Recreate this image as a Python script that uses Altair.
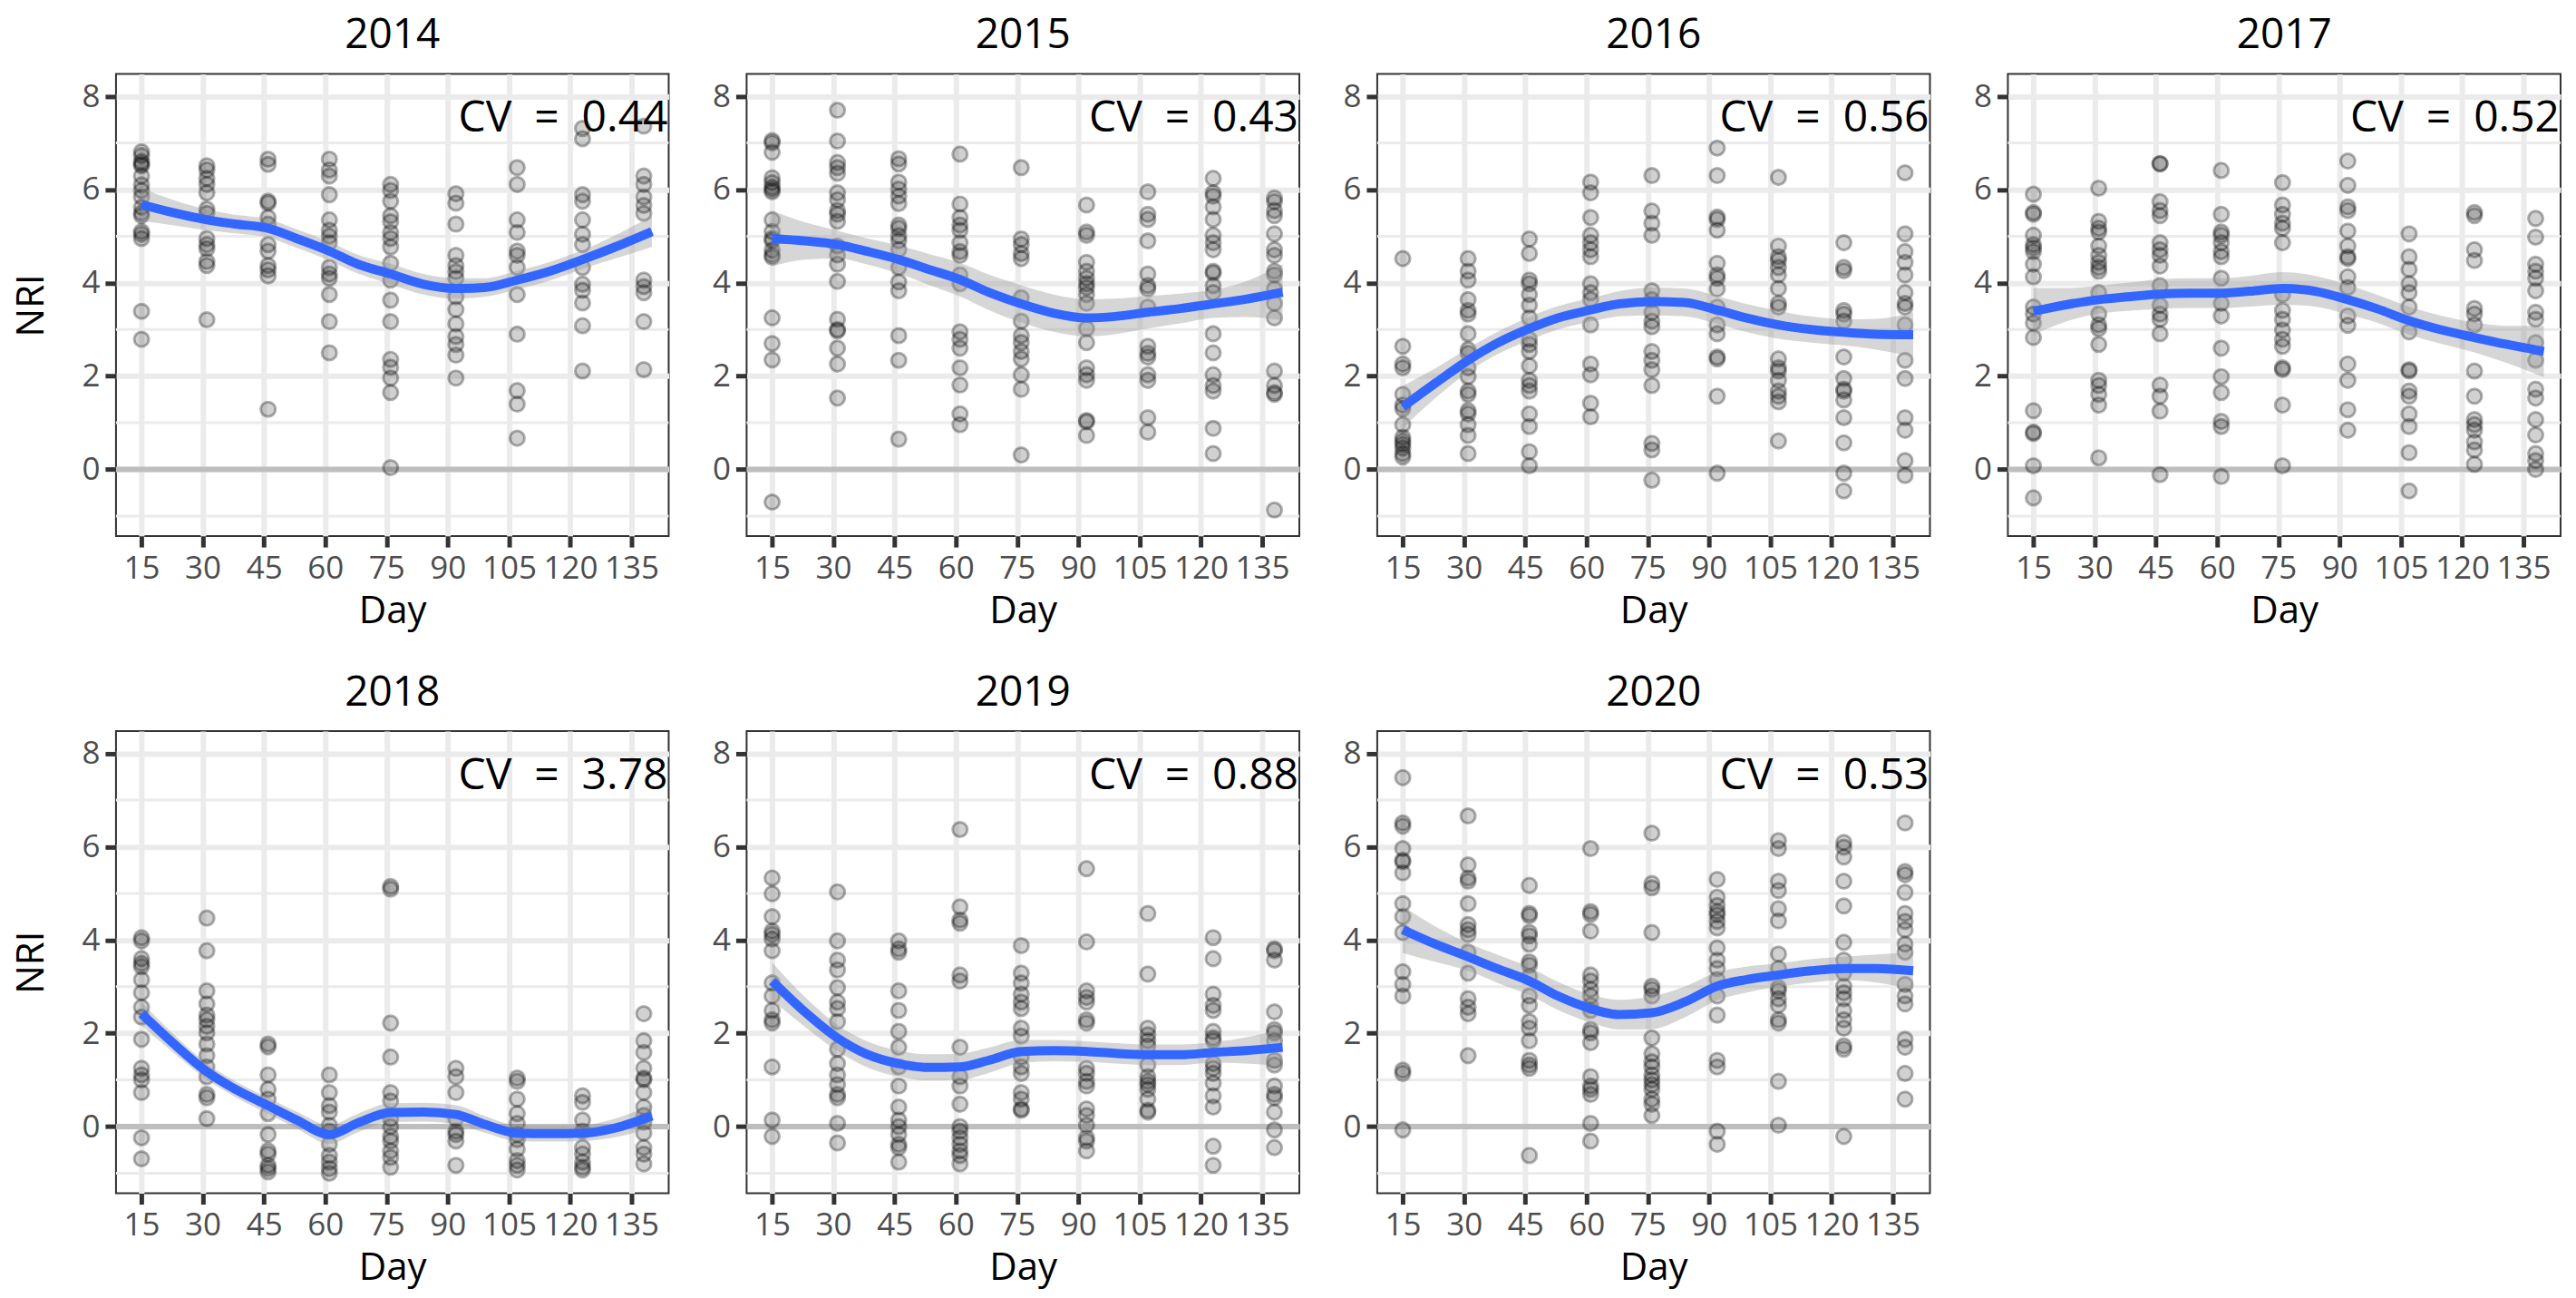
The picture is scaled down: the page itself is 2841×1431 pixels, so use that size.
import altair as alt
import pandas as pd

FONT = "Open Sans"

YEARS = [2014, 2015, 2016, 2017, 2018, 2019, 2020]
DAYS = [15, 31, 46, 61, 76, 92, 107, 123, 138]
X_TICKS = [15, 30, 45, 60, 75, 90, 105, 120, 135]
Y_TICKS = [0, 2, 4, 6, 8]
Y_MINOR = [-1, 1, 3, 5, 7]
CV = {2014: "0.44", 2015: "0.43", 2016: "0.56", 2017: "0.52",
      2018: "3.78", 2019: "0.88", 2020: "0.53"}

# NRI observations, one list per sampling day (DAYS order)
NRI_2014 = [
    [6.81, 6.73, 6.6, 6.55, 6.51, 6.29, 6.1, 5.98, 5.84, 5.62, 5.5, 5.44, 5.1, 5.04, 4.95, 3.39, 2.79],
    [6.51, 6.42, 6.24, 6.11, 5.93, 5.58, 5.49, 4.95, 4.82, 4.73, 4.46, 4.37, 3.21],
    [6.65, 6.54, 5.75, 5.71, 5.4, 5.26, 4.82, 4.68, 4.37, 4.28, 4.15, 1.29],
    [6.65, 6.42, 6.29, 5.89, 5.35, 5.13, 5.0, 4.86, 4.33, 4.19, 4.1, 3.75, 3.17, 2.5],
    [6.11, 5.98, 5.75, 5.44, 5.31, 5.08, 4.95, 4.77, 4.42, 4.06, 3.63, 3.17, 2.36, 2.19, 1.96, 1.65, 0.04],
    [5.91, 5.71, 5.26, 4.59, 4.37, 4.24, 4.1, 3.7, 3.43, 3.12, 2.85, 2.68, 2.45, 1.96],
    [6.47, 6.11, 5.35, 5.08, 4.68, 4.59, 4.33, 3.75, 2.9, 1.69, 1.4, 0.67],
    [7.31, 7.09, 5.89, 5.75, 5.35, 5.04, 4.82, 4.33, 3.97, 3.84, 3.57, 3.08, 2.11],
    [7.36, 6.29, 6.11, 5.84, 5.66, 5.49, 4.06, 3.92, 3.79, 3.17, 2.14],
]
NRI_2015 = [
    [7.05, 7.0, 6.8, 6.25, 6.15, 6.05, 6.0, 5.95, 5.35, 5.1, 4.95, 4.9, 4.7, 4.6, 4.55, 3.25, 2.7, 2.35, -0.7],
    [7.7, 7.04, 6.58, 6.47, 6.35, 5.93, 5.78, 5.55, 5.47, 5.32, 4.79, 4.6, 4.4, 4.03, 3.22, 3.0, 2.97, 2.6, 2.26, 1.53],
    [6.66, 6.55, 6.16, 6.01, 5.86, 5.7, 5.24, 5.17, 5.01, 4.9, 4.71, 4.33, 4.02, 3.83, 2.87, 2.34, 0.65],
    [6.76, 5.69, 5.4, 5.24, 5.13, 4.86, 4.67, 4.59, 4.17, 3.98, 2.95, 2.79, 2.6, 2.18, 1.81, 1.19, 0.96],
    [6.47, 4.94, 4.82, 4.63, 4.52, 3.68, 3.18, 2.87, 2.72, 2.53, 2.37, 2.03, 1.72, 0.31],
    [5.67, 5.09, 5.02, 4.44, 4.25, 4.1, 3.98, 3.9, 3.75, 3.56, 3.02, 2.72, 2.18, 2.03, 1.91, 1.05, 1.02, 0.73],
    [5.95, 5.47, 5.36, 4.9, 4.19, 3.94, 3.87, 3.48, 2.64, 2.49, 2.41, 2.03, 1.91, 1.11, 0.8],
    [6.24, 5.93, 5.86, 5.63, 5.36, 5.02, 4.86, 4.71, 4.25, 4.21, 3.94, 3.79, 2.91, 2.5, 2.03, 1.8, 1.68, 0.88, 0.34],
    [5.82, 5.74, 5.55, 5.44, 5.05, 4.71, 4.59, 4.25, 4.17, 3.87, 3.56, 3.25, 2.11, 1.8, 1.65, 1.61, -0.87],
]
NRI_2016 = [
    [4.52, 2.64, 2.26, 2.18, 1.61, 1.38, 1.3, 0.96, 0.69, 0.61, 0.54, 0.46, 0.34, 0.27],
    [4.52, 4.25, 4.06, 3.64, 3.41, 3.33, 2.91, 2.57, 2.49, 2.18, 1.99, 1.68, 1.61, 1.26, 1.19, 0.96, 0.73, 0.34],
    [4.94, 4.63, 4.06, 3.98, 3.75, 3.52, 3.25, 2.79, 2.68, 2.53, 2.22, 1.91, 1.8, 1.68, 1.19, 0.92, 0.38, 0.08],
    [6.16, 5.93, 5.4, 5.02, 4.86, 4.71, 4.56, 3.98, 3.79, 3.64, 3.1, 2.26, 2.03, 1.42, 1.13],
    [6.3, 5.54, 5.28, 5.02, 3.83, 3.64, 3.37, 3.18, 3.06, 2.53, 2.34, 2.14, 1.8, 0.56, 0.42, -0.23],
    [6.89, 6.3, 5.41, 5.36, 5.13, 4.42, 4.17, 4.1, 3.87, 3.48, 3.1, 2.91, 2.41, 2.37, 1.57, -0.08],
    [6.26, 4.79, 4.56, 4.48, 4.33, 4.17, 3.88, 3.56, 3.48, 2.37, 2.18, 2.11, 1.91, 1.68, 1.57, 1.45, 0.61],
    [4.86, 4.33, 4.26, 3.41, 3.33, 3.18, 2.41, 1.95, 1.72, 1.68, 1.49, 1.11, 0.57, -0.08, -0.46],
    [6.36, 5.05, 4.67, 4.44, 4.17, 3.79, 3.56, 3.48, 3.1, 2.34, 1.95, 1.11, 0.84, 0.19, -0.13],
]
NRI_2017 = [
    [5.9, 5.51, 5.47, 5.02, 4.82, 4.75, 4.67, 4.4, 4.13, 3.48, 3.33, 3.14, 2.83, 1.26, 0.8, 0.77, 0.08, -0.61],
    [6.03, 5.32, 5.17, 5.09, 4.79, 4.59, 4.44, 4.33, 4.25, 3.79, 3.33, 3.1, 3.02, 2.68, 1.91, 1.8, 1.61, 1.38, 0.25],
    [6.56, 6.55, 5.74, 5.55, 5.44, 4.86, 4.71, 4.59, 4.36, 3.94, 3.52, 3.33, 3.22, 2.91, 1.81, 1.57, 1.25, -0.11],
    [6.41, 5.47, 5.09, 5.02, 4.86, 4.67, 4.56, 4.1, 3.56, 3.29, 2.6, 1.99, 1.65, 1.03, 0.92, -0.15],
    [6.15, 5.67, 5.47, 5.28, 5.17, 4.86, 3.75, 3.41, 3.22, 2.99, 2.79, 2.64, 2.18, 2.14, 1.38, 0.08],
    [6.61, 6.09, 5.63, 5.55, 5.11, 4.79, 4.56, 4.52, 4.13, 3.9, 3.29, 3.09, 2.26, 1.91, 1.28, 0.84],
    [5.05, 4.56, 4.29, 3.98, 3.79, 3.48, 2.95, 2.14, 2.11, 1.68, 1.57, 1.19, 0.92, 0.36, -0.46],
    [5.51, 5.44, 4.71, 4.48, 3.45, 3.33, 3.1, 2.11, 1.57, 1.07, 0.96, 0.84, 0.59, 0.42, 0.11],
    [5.38, 4.98, 4.4, 4.25, 4.1, 3.83, 3.37, 3.22, 2.72, 2.34, 1.72, 1.53, 1.07, 0.74, 0.34, 0.19, 0.0],
]
NRI_2018 = [
    [4.05, 3.98, 3.6, 3.5, 3.43, 3.15, 2.87, 2.56, 2.35, 1.87, 1.25, 1.11, 1.0, 0.73, -0.24, -0.69],
    [4.47, 3.77, 2.91, 2.63, 2.39, 2.29, 2.15, 2.01, 1.77, 1.52, 1.28, 1.07, 0.69, 0.62, 0.17],
    [1.77, 1.71, 1.11, 0.8, 0.59, 0.28, -0.17, -0.52, -0.59, -0.83, -0.9, -0.97],
    [1.11, 0.73, 0.45, 0.31, 0.03, -0.1, -0.38, -0.62, -0.76, -0.9, -1.0],
    [5.15, 5.09, 2.22, 1.49, 0.73, 0.55, 0.17, 0.0, -0.21, -0.31, -0.52, -0.66, -0.87],
    [1.25, 1.07, 0.73, 0.17, -0.1, -0.17, -0.31, -0.83],
    [1.04, 0.97, 0.59, 0.28, 0.07, -0.17, -0.28, -0.48, -0.73, -0.83, -0.93],
    [0.66, 0.52, 0.14, -0.1, -0.45, -0.59, -0.76, -0.87, -0.93],
    [2.42, 1.84, 1.59, 1.25, 1.04, 1.0, 0.73, 0.42, 0.24, 0.1, -0.14, -0.45, -0.59, -0.8],
]
NRI_2019 = [
    [5.33, 4.99, 4.5, 4.19, 4.12, 4.02, 3.77, 3.08, 2.8, 2.49, 2.29, 2.22, 1.28, 0.14, -0.21],
    [5.03, 3.98, 3.57, 3.36, 2.98, 2.67, 2.53, 2.25, 1.66, 1.35, 1.11, 0.9, 0.69, 0.62, 0.07, -0.35],
    [3.98, 3.81, 3.74, 2.91, 2.49, 2.04, 1.7, 1.28, 0.87, 0.42, 0.14, 0.0, -0.17, -0.38, -0.45, -0.76],
    [6.37, 4.71, 4.43, 4.36, 3.25, 3.12, 1.7, 1.07, 0.87, 0.48, 0.0, -0.1, -0.24, -0.38, -0.52, -0.62, -0.8],
    [3.88, 3.29, 3.08, 2.84, 2.67, 2.53, 2.11, 1.94, 1.49, 1.28, 1.14, 0.73, 0.59, 0.38, 0.35],
    [5.53, 3.96, 2.91, 2.77, 2.67, 2.29, 2.22, 1.25, 1.14, 0.97, 0.87, 0.38, 0.24, 0.03, -0.24, -0.31, -0.52],
    [4.57, 3.27, 2.11, 1.97, 1.84, 1.73, 1.32, 1.07, 0.97, 0.9, 0.8, 0.59, 0.35, 0.31],
    [4.05, 3.6, 2.84, 2.6, 2.49, 2.04, 1.9, 1.84, 1.35, 1.25, 1.14, 0.93, 0.66, 0.42, -0.42, -0.83],
    [3.81, 3.77, 3.57, 2.46, 2.08, 2.01, 1.84, 1.42, 1.32, 0.87, 0.69, 0.62, 0.31, -0.07, -0.45],
]
NRI_2020 = [
    [7.48, 6.51, 6.44, 5.96, 5.71, 5.68, 5.44, 4.78, 4.5, 4.16, 3.32, 3.05, 2.8, 1.21, 1.14, -0.07],
    [6.66, 5.61, 5.33, 5.26, 4.78, 4.33, 4.22, 4.12, 3.74, 3.29, 2.74, 2.56, 2.42, 1.52],
    [5.17, 4.57, 4.52, 4.16, 4.09, 3.91, 3.53, 3.46, 3.22, 2.8, 2.6, 2.25, 2.11, 1.84, 1.42, 1.32, 1.25, -0.62],
    [5.96, 4.61, 4.55, 4.19, 3.25, 3.12, 2.94, 2.8, 2.6, 2.49, 2.08, 2.01, 1.8, 1.07, 0.87, 0.8, 0.69, 0.07, -0.31],
    [6.29, 5.21, 5.12, 4.16, 3.01, 2.94, 2.8, 1.9, 1.56, 1.39, 1.28, 1.11, 1.0, 0.9, 0.8, 0.59, 0.48, 0.24],
    [5.3, 4.92, 4.74, 4.61, 4.54, 4.4, 4.26, 3.83, 3.57, 3.39, 3.15, 2.8, 2.39, 1.42, 1.28, -0.1, -0.38],
    [6.13, 5.96, 5.26, 5.06, 4.67, 4.41, 3.7, 3.39, 2.98, 2.91, 2.74, 2.6, 2.29, 2.22, 0.97, 0.03],
    [6.09, 5.99, 5.78, 5.26, 4.73, 3.95, 3.57, 3.29, 3.01, 2.87, 2.74, 2.49, 2.29, 2.11, 1.73, 1.66, -0.21],
    [6.51, 5.47, 5.4, 5.02, 4.57, 4.4, 4.22, 3.91, 3.74, 3.05, 2.8, 2.63, 1.87, 1.7, 1.14, 0.59],
]
NRI = {2014: NRI_2014, 2015: NRI_2015, 2016: NRI_2016, 2017: NRI_2017,
       2018: NRI_2018, 2019: NRI_2019, 2020: NRI_2020}

# smoothed trend and half-width of its band
SMOOTH_DAYS = [15, 23, 31, 38, 46, 53, 61, 68, 76, 84, 92, 99, 107, 115, 123, 131, 140]
FIT = {
    2014: [5.68, 5.5, 5.35, 5.26, 5.17, 4.95, 4.68, 4.4, 4.19, 3.97, 3.88, 3.9, 4.06, 4.25, 4.5, 4.77, 5.1],
    2015: [4.95, 4.9, 4.82, 4.68, 4.5, 4.3, 4.07, 3.8, 3.55, 3.35, 3.25, 3.28, 3.37, 3.45, 3.55, 3.65, 3.8],
    2016: [1.34, 1.85, 2.34, 2.7, 3.02, 3.25, 3.42, 3.55, 3.6, 3.58, 3.42, 3.25, 3.1, 3.0, 2.94, 2.9, 2.89],
    2017: [3.39, 3.53, 3.64, 3.7, 3.76, 3.78, 3.78, 3.82, 3.88, 3.82, 3.64, 3.45, 3.19, 2.99, 2.83, 2.68, 2.53],
    2018: [2.42, 1.77, 1.18, 0.8, 0.45, 0.14, -0.17, 0.08, 0.3, 0.31, 0.26, 0.05, -0.14, -0.15, -0.14, -0.03, 0.23],
    2019: [3.12, 2.46, 1.9, 1.56, 1.35, 1.27, 1.28, 1.42, 1.61, 1.63, 1.61, 1.57, 1.54, 1.54, 1.59, 1.63, 1.7],
    2020: [4.22, 3.91, 3.64, 3.39, 3.12, 2.8, 2.53, 2.4, 2.44, 2.67, 3.01, 3.15, 3.25, 3.34, 3.39, 3.39, 3.34],
}
SE = {
    2014: [0.35, 0.27, 0.22, 0.2, 0.2, 0.2, 0.2, 0.2, 0.22, 0.22, 0.22, 0.2, 0.2, 0.2, 0.2, 0.25, 0.33],
    2015: [0.6, 0.4, 0.3, 0.28, 0.3, 0.33, 0.36, 0.38, 0.4, 0.4, 0.4, 0.38, 0.35, 0.32, 0.3, 0.38, 0.6],
    2016: [0.45, 0.32, 0.25, 0.24, 0.25, 0.25, 0.25, 0.27, 0.3, 0.3, 0.3, 0.3, 0.3, 0.28, 0.28, 0.33, 0.48],
    2017: [0.5, 0.36, 0.3, 0.3, 0.32, 0.32, 0.32, 0.33, 0.35, 0.33, 0.32, 0.3, 0.3, 0.3, 0.32, 0.4, 0.55],
    2018: [0.25, 0.2, 0.17, 0.17, 0.17, 0.18, 0.2, 0.2, 0.2, 0.2, 0.2, 0.18, 0.17, 0.17, 0.17, 0.2, 0.25],
    2019: [0.4, 0.32, 0.28, 0.28, 0.28, 0.28, 0.28, 0.27, 0.25, 0.23, 0.22, 0.22, 0.22, 0.22, 0.22, 0.28, 0.4],
    2020: [0.5, 0.38, 0.3, 0.3, 0.3, 0.3, 0.3, 0.32, 0.35, 0.33, 0.3, 0.28, 0.25, 0.25, 0.25, 0.3, 0.4],
}

W, H = 610, 510
XDOM = [8.75, 144.1]
YDOM = [-1.43, 8.48]


def panel(year, show_ytitle):
    pts = pd.DataFrame([(d, v) for d, vals in zip(DAYS, NRI[year]) for v in vals],
                       columns=["day", "nri"])
    fit = pd.DataFrame({
        "day": SMOOTH_DAYS,
        "fit": FIT[year],
        "lo": [f - s for f, s in zip(FIT[year], SE[year])],
        "hi": [f + s for f, s in zip(FIT[year], SE[year])],
    })
    xs = alt.Scale(domain=XDOM, nice=False, zero=False)
    ys = alt.Scale(domain=YDOM, nice=False, zero=False)
    xaxis = alt.Axis(values=X_TICKS, title="Day", grid=True, labelOverlap=False)
    if show_ytitle:
        yaxis = alt.Axis(values=Y_TICKS, title="NRI", grid=True)
    else:
        yaxis = alt.Axis(values=Y_TICKS, title="", grid=True)

    minor = alt.Chart(pd.DataFrame({"m": Y_MINOR})).mark_rule(
        color="#EBEBEB", strokeWidth=3
    ).encode(y=alt.Y("m:Q", scale=ys, axis=yaxis))

    zero = alt.Chart(pd.DataFrame({"z": [0]})).mark_rule(
        color="#BEBEBE", strokeWidth=6
    ).encode(y=alt.Y("z:Q", scale=ys))

    points = alt.Chart(pts).mark_circle(
        size=260, fill="black", fillOpacity=0.18,
        stroke="black", strokeOpacity=0.3, strokeWidth=3
    ).encode(
        x=alt.X("day:Q", scale=xs, axis=xaxis),
        y=alt.Y("nri:Q", scale=ys),
    )

    band = alt.Chart(fit).mark_area(
        color="#999999", opacity=0.4, interpolate="monotone"
    ).encode(
        x=alt.X("day:Q", scale=xs),
        y=alt.Y("lo:Q", scale=ys),
        y2="hi:Q",
    )

    line = alt.Chart(fit).mark_line(
        color="#3366FF", strokeWidth=10, interpolate="monotone"
    ).encode(
        x=alt.X("day:Q", scale=xs),
        y=alt.Y("fit:Q", scale=ys),
    )

    label = alt.Chart(pd.DataFrame({"t": ["CV \u00a0=\u00a0 " + CV[year]]})).mark_text(
        align="right", baseline="alphabetic", fontSize=48, font=FONT, color="black"
    ).encode(x=alt.value(W - 1), y=alt.value(64), text="t:N")

    return alt.layer(minor, zero, points, band, line, label).properties(
        width=W, height=H,
        title=alt.TitleParams(text=str(year), fontSize=46, font=FONT,
                              fontWeight="normal", color="black",
                              anchor="middle", offset=18),
    )


panels = [panel(y, i % 4 == 0) for i, y in enumerate(YEARS)]

chart = alt.concat(
    *panels, columns=4, spacing={"row": 215, "column": 86}, bounds="flush"
).properties(
    padding={"left": 4, "top": 7, "right": 5, "bottom": 5},
    background="white",
).configure_view(
    stroke="#333333", strokeWidth=2
).configure_axis(
    labelFont=FONT, labelFontSize=35, labelColor="#4D4D4D",
    tickColor="#333333", tickWidth=5, tickSize=12, labelPadding=6,
    domain=False, gridColor="#EBEBEB", gridWidth=6,
    titleFont=FONT, titleFontSize=42, titleFontWeight="normal",
    titleColor="black",
).configure_axisX(
    titlePadding=9
).configure_axisY(
    titlePadding=33
)

chart.save("out.html", embed_options={"renderer": "svg", "actions": False})
